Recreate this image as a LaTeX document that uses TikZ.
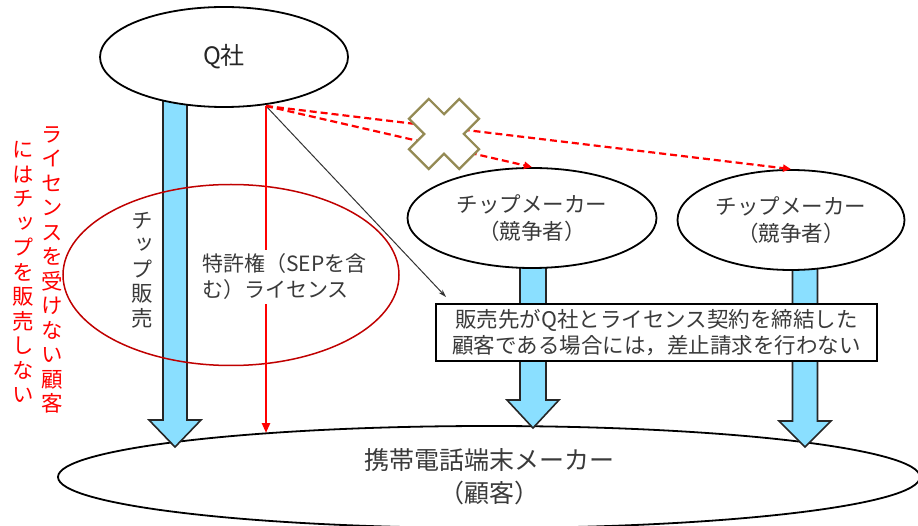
\documentclass[tikz,border=0pt]{standalone}
\usepackage{fontspec}
\newfontfamily\jp{Noto Sans CJK JP}
\newfontfamily\jpv[RawFeature=+vert]{Noto Sans CJK JP}
\usetikzlibrary{shapes.geometric,arrows.meta}
\definecolor{txt}{HTML}{3A3A3A}
\definecolor{chipblue}{HTML}{8ADFFF}
\definecolor{darkred}{HTML}{C00000}
\definecolor{xcol}{HTML}{948A54}
\begin{document}
\begin{tikzpicture}[x=1pt,y=-1pt,
  every node/.style={font=\jp\fontsize{21.5}{27}\selectfont, text=txt},
  oval/.style={ellipse, draw=black, line width=1.8pt, fill=white, inner sep=0pt, align=center},
  barrow/.style={draw=black!85, line width=1.6pt, fill=chipblue, line join=miter},
  vtext/.style={font=\jpv\fontsize{21.5}{24.5}\selectfont, align=center, inner sep=0pt},
  redarrow/.style={draw=red, line width=2.5pt, -{Triangle[length=10pt,width=8pt]}},
  dasharrow/.style={draw=red, line width=2.2pt, dash pattern=on 7pt off 4pt, -{Triangle[length=8pt,width=7pt]}},
  thinarrow/.style={draw=black!80, line width=1pt, -{Stealth[length=8pt,width=5pt]}}
]
\useasboundingbox (0,0) rectangle (918,526);
\fill[white] (0,0) rectangle (918,526);

% bottom customer ellipse
\node[oval, minimum width=862, minimum height=102] (Cust) at (489,477) {};

% blue chip-sale arrows
\newcommand\blueshaft[5]{% xc, half shaft, ytop, yhead, ytip
  \draw[barrow] (#1-#2,#3) -- (#1-#2,#4) -- (#1-26,#4) -- (#1,#5) -- (#1+26,#4) -- (#1+#2,#4) -- (#1+#2,#3) -- cycle;}
\blueshaft{175}{12}{95}{420}{447}
\blueshaft{533}{13}{250}{400}{428}
\blueshaft{805}{12.5}{250}{421}{447}

% red ellipse
\node[ellipse, draw=darkred, line width=1.5pt, minimum width=336, minimum height=181, inner sep=0pt] (RE) at (231,275) {};

% connectors
\coordinate (o) at (266,106);
\coordinate (r) at (266,433);
\coordinate (bt) at (446,297);
\draw[redarrow] (o) -- (r);
\draw[thinarrow] (o) -- (bt);

% upper nodes
\node[oval, minimum width=248, minimum height=100, font=\jp\fontsize{24}{28}\selectfont] (Q) at (224,57) {\textcolor{black!85}{Q社}};
\node[oval, minimum width=249, minimum height=100] (CM1) at (532,218) {チップメーカー\\（競争者）};
\node[oval, minimum width=227, minimum height=100] (CM2) at (791,220) {チップメーカー\\（競争者）};

\draw[dasharrow] (o) -- (CM1.north);
\draw[dasharrow] (o) -- (CM2.north);

% cross mark
\draw[xcol, line width=2.2pt, fill=white, line join=miter, shift={(444,134)}, rotate=45]
  (14,14) -- (14,35.5) -- (-14,35.5) -- (-14,14) -- (-35.5,14) -- (-35.5,-14)
  -- (-14,-14) -- (-14,-35.5) -- (14,-35.5) -- (14,-14) -- (35.5,-14) -- (35.5,14) -- cycle;

% condition box
\node[draw=black, line width=1.5pt, fill=white, minimum width=441, minimum height=57, inner sep=0pt, align=center,
  font=\jp\fontsize{21.5}{26}\selectfont] (Box) at (656.5,332.5)
  {販売先がQ社とライセンス契約を締結した\\顧客である場合には，差止請求を行わない};

% customer text
\node[align=center, font=\jp\fontsize{25}{33}\selectfont] (CustT) at (489,477) {携帯電話端末メーカー\\（顧客）};

% license text
\node[anchor=west, align=left, fill=white, inner xsep=0pt, inner ysep=4pt,
  font=\jp\fontsize{21}{26}\selectfont] (Lic) at (202,277) {特許権（SEPを含\\む）ライセンス};

% vertical texts
\node[vtext] (Chip) at (142,270) {チ\\ッ\\プ\\販\\売};
\node[vtext, text=red] (V1) at (52,270) {ラ\\イ\\セ\\ン\\ス\\を\\受\\け\\な\\い\\顧\\客};
\node[vtext, text=red] (V2) at (23,272) {に\\は\\チ\\ッ\\プ\\を\\販\\売\\し\\な\\い};
\end{tikzpicture}
\end{document}
